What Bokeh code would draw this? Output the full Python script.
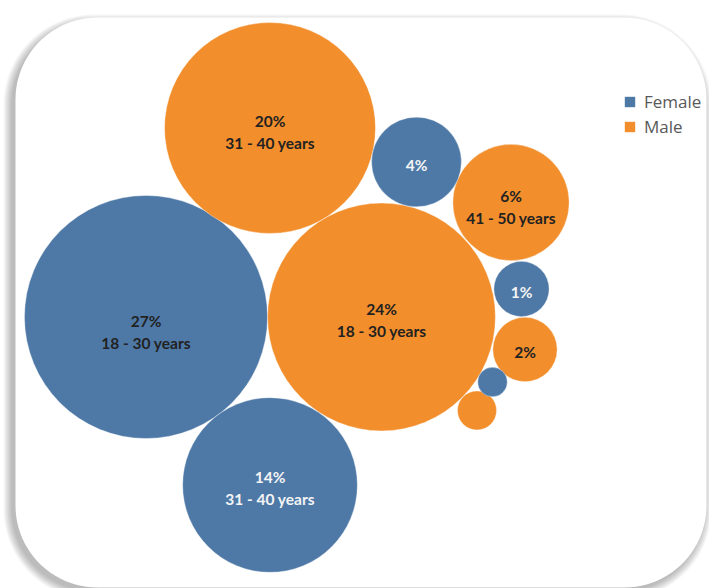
import numpy as np
from bokeh.plotting import figure
from bokeh.models import Range1d, Legend, LegendItem, ColumnDataSource
from bokeh.core.properties import value
from bokeh.embed import file_html
from bokeh.resources import INLINE

# ---- data ----
genders = ["Female", "Male", "Male", "Female", "Male", "Female", "Male", "Female", "Male", "Female"]
shares = [27.1, 23.8, 20.4, 14.0, 6.2, 3.7, 1.9, 1.4, 0.7, 0.4]
pct_labels = ["27%", "24%", "20%", "14%", "6%", "4%", "2%", "1%", "", ""]
age_labels = ["18 - 30 years", "18 - 30 years", "31 - 40 years", "31 - 40 years",
              "41 - 50 years", "", "", "", "", ""]
# packed layout centres (pixel space)
cx = [145.5, 381.0, 269.5, 269.5, 510.5, 416.0, 524.5, 521.0, 476.5, 492.0]
cy = [316.5, 316.5, 127.5, 484.5, 202.0, 161.5, 349.0, 288.5, 410.0, 381.5]
label_dy = [15, 2.5, 3.5, 3, 4, 2.5, 2, 2.5, 0, 0]
dark_text = [True, True, True, False, True, False, True, False, True, False]
legend_labels = ["Female", "Male"]

COLORS = {"Female": "#4e79a7", "Male": "#f28e2b"}
W, H = 709, 588
K = 23.35  # pixels per sqrt(percent)

p = figure(width=W, height=H, output_backend="svg", toolbar_location=None,
           x_range=Range1d(0, W), y_range=Range1d(H, 0),
           min_border=0, x_axis_location=None, y_axis_location=None)
p.grid.visible = False
p.outline_line_color = None
p.background_fill_color = "white"
p.border_fill_color = "white"

# ---- card with soft shadow ----
def rrect(x0, y0, x1, y1, r, n=24):
    xs, ys = [], []
    corners = [(x1 - r, y0 + r, -90, 0), (x1 - r, y1 - r, 0, 90),
               (x0 + r, y1 - r, 90, 180), (x0 + r, y0 + r, 180, 270)]
    for (ccx, ccy, a0, a1) in corners:
        t = np.radians(np.linspace(a0, a1, n))
        xs.extend(ccx + r * np.cos(t))
        ys.extend(ccy + r * np.sin(t))
    return xs, ys

X0, Y0, X1, Y1, R = 15, 17, 706, 587, 82
for s in range(8, -1, -1):
    sx, sy = rrect(X0 - 4 - s, Y0 + 5 - s, X1 - 3 + s, Y1 + 4 + s, R + s)
    p.patch(sx, sy, fill_color="black", fill_alpha=0.032, line_color=None)
cxs, cys = rrect(X0, Y0, X1, Y1, R)
p.patch(cxs, cys, fill_color="white", line_color=None)

# ---- bubbles ----
radius = [K * np.sqrt(v) for v in shares]
src = ColumnDataSource(dict(x=cx, y=cy, r=radius,
                            color=[COLORS[g] for g in genders], g=genders))
p.circle(x="x", y="y", radius="r", source=src, fill_color="color",
         line_color="white", line_width=0.6, line_alpha=0.6)

# ---- labels ----
for i in range(len(shares)):
    col = "#222222" if dark_text[i] else "#f4f4f4"
    base = cy[i] + label_dy[i]
    if age_labels[i]:
        ys = [base - 11, base + 11]
        txt = [pct_labels[i], age_labels[i]]
    elif pct_labels[i]:
        ys = [base]
        txt = [pct_labels[i]]
    else:
        continue
    p.text(x=[cx[i]] * len(ys), y=ys, text=txt, text_align="center",
           text_baseline="middle", text_font=value("Lato"),
           text_font_size="15.5px", text_font_style="bold", text_color=col)

# ---- legend ----
items = []
for lab in legend_labels:
    r = p.quad(left=[-100], right=[-90], top=[-100], bottom=[-90],
               fill_color=COLORS[lab], line_color=None)
    items.append(LegendItem(label=lab, renderers=[r]))
legend = Legend(items=items, location=(623, 450), orientation="vertical",
                glyph_width=13, glyph_height=13, label_height=20,
                label_standoff=8, spacing=2, padding=0, margin=0,
                label_text_font="Open Sans", label_text_font_size="17px",
                label_text_color="#595959", border_line_color=None,
                background_fill_alpha=0)
p.add_layout(legend)

open("out.html", "w").write(file_html(p, INLINE))
